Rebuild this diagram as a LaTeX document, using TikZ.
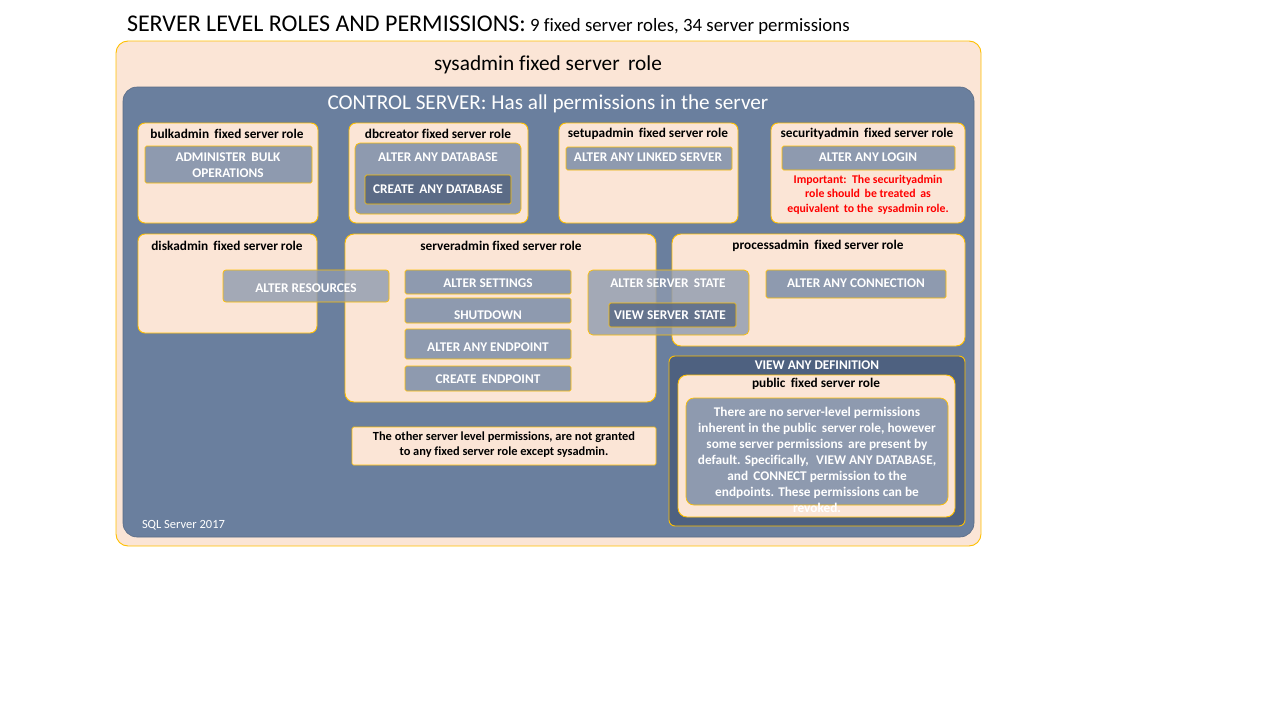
\documentclass[tikz,border=0pt]{standalone}
\usepackage{fontspec}
\setmainfont{Carlito}[Ligatures=NoCommon]
\definecolor{peach}{HTML}{FBE5D6}
\definecolor{gold}{HTML}{FFC000}
\definecolor{ctrlblue}{HTML}{6A7F9E}
\definecolor{permgray}{HTML}{8E9AAF}
\definecolor{permdark}{HTML}{5B6B86}
\definecolor{defblue}{HTML}{4E6180}
\definecolor{warnred}{HTML}{FF0000}
\begin{document}
\begin{tikzpicture}[x=1pt,y=-1pt,
  every node/.style={inner sep=0pt, outer sep=0pt},
  rolebox/.style={draw=gold, line width=0.9pt, fill=peach, rounded corners=7pt},
  permbox/.style={draw=gold, line width=0.7pt, fill=permgray, rounded corners=1.5pt},
  permsoft/.style={draw=gold, line width=0.7pt, fill=permgray, fill opacity=0.8, rounded corners=3pt},
  permdarkbox/.style={draw=gold, line width=0.7pt, fill=permdark, rounded corners=1.5pt},
  roletitle/.style={font=\fontsize{13.3}{15}\selectfont\bfseries, text=black},
  permtext/.style={font=\fontsize{13.3}{16}\selectfont\bfseries, text=white, align=center},
]
\useasboundingbox (0,0) rectangle (1280,720);

% heading
\node[anchor=base west] (head) at (127,31)
  {\fontsize{24}{28}\selectfont SERVER LEVEL ROLES AND PERMISSIONS:\fontsize{18.8}{22}\selectfont{} 9 fixed server roles, 34 server permissions};

% sysadmin and CONTROL SERVER layers
\node[rolebox, rounded corners=12pt, minimum width=865pt, minimum height=505pt] (sysadmin) at (548.5,293.5) {};
\node[font=\fontsize{21.3}{25}\selectfont] (sysadminlbl) at (548,65) {sysadmin fixed server\, role};
\node[draw=ctrlblue!85!black, line width=0.6pt, fill=ctrlblue, rounded corners=14pt, minimum width=851pt, minimum height=450pt] (control) at (548.5,312) {};
\node[font=\fontsize{21.2}{25}\selectfont, text=white] (controllbl) at (548,104) {CONTROL SERVER: Has all permissions in the server};
\node[anchor=base west, font=\fontsize{12.5}{14}\selectfont, text=white] (version) at (142,528) {SQL Server 2017};

% bulkadmin
\node[rolebox, minimum width=180pt, minimum height=100pt] (bulk) at (228,173) {};
\node[roletitle] (bulklbl) at (227,134) {bulkadmin\, fixed server role};
\node[permbox, minimum width=167pt, minimum height=37pt] (admbulk) at (228.5,164.5) {};
\node[permtext] (admbulklbl) at (228,165) {ADMINISTER\, BULK\\OPERATIONS};

% dbcreator
\node[rolebox, minimum width=179pt, minimum height=100pt] (dbc) at (438.5,173) {};
\node[roletitle] (dbclbl) at (438,134) {dbcreator fixed server role};
\node[draw=gold, line width=0.7pt, fill=permgray, rounded corners=5pt, minimum width=166pt, minimum height=71pt] (alterdb) at (438,178.5) {};
\node[permtext] (alterdblbl) at (438,157) {ALTER ANY DATABASE};
\node[permdarkbox, minimum width=146pt, minimum height=29pt] (createdb) at (438,189.5) {};
\node[permtext] (createdblbl) at (438,189.5) {CREATE\, ANY DATABASE};

% setupadmin
\node[rolebox, minimum width=179pt, minimum height=100pt] (setup) at (648.5,173) {};
\node[roletitle] (setuplbl) at (648,134) {setupadmin\, fixed server role};
\node[permbox, minimum width=166pt, minimum height=23pt] (linked) at (649,158.5) {};
\node[permtext] (linkedlbl) at (648,157) {ALTER ANY LINKED SERVER};

% securityadmin
\node[rolebox, minimum width=194pt, minimum height=100pt] (security) at (868,173) {};
\node[roletitle] (securitylbl) at (867,134) {securityadmin\, fixed server role};
\node[permbox, minimum width=173pt, minimum height=24pt] (login) at (868.5,158) {};
\node[permtext] (loginlbl) at (868,157) {ALTER ANY LOGIN};
\node[font=\fontsize{11.8}{14.5}\selectfont\bfseries, text=warnred, align=center] (warn) at (868,194.5)
  {Important:\, The securityadmin\\role should\, be treated\, as\\equivalent\, to the\, sysadmin role.};

% diskadmin
\node[rolebox, minimum width=179pt, minimum height=99pt] (disk) at (227.5,283.5) {};
\node[roletitle] (disklbl) at (227,246) {diskadmin\, fixed server role};

% serveradmin
\node[rolebox, rounded corners=9pt, minimum width=311pt, minimum height=168pt] (srvadm) at (500.5,318) {};
\node[roletitle] (srvadmlbl) at (501,246) {serveradmin fixed server role};
\node[permbox, minimum width=166pt, minimum height=24pt] (settings) at (488,282) {};
\node[permtext] (settingslbl) at (488,283) {ALTER SETTINGS};
\node[permbox, minimum width=166pt, minimum height=25pt] (shutdown) at (488,310.5) {};
\node[permtext] (shutdownlbl) at (488,315) {SHUTDOWN};
\node[permbox, minimum width=166pt, minimum height=30pt] (altend) at (488,344) {};
\node[permtext] (altendlbl) at (488,347) {ALTER ANY ENDPOINT};
\node[permbox, minimum width=166pt, minimum height=25pt] (createend) at (488,378.5) {};
\node[permtext] (createendlbl) at (488,379) {CREATE\, ENDPOINT};

% processadmin
\node[rolebox, rounded corners=9pt, minimum width=293pt, minimum height=112pt] (process) at (818.5,290) {};
\node[roletitle] (processlbl) at (818,246) {processadmin\, fixed server role};
\node[permbox, minimum width=180pt, minimum height=28pt] (connection) at (856,284) {};
\node[permtext] (connectionlbl) at (856,283) {ALTER ANY CONNECTION};

% permissions shared across roles (see-through)
\node[permsoft, minimum width=166pt, minimum height=32pt] (resources) at (306,286) {};
\node[permtext] (resourceslbl) at (306,288) {ALTER RESOURCES};
\node[permsoft, rounded corners=5pt, minimum width=161pt, minimum height=65pt] (srvstate) at (668.5,302.5) {};
\node[permtext] (srvstatelbl) at (668,283) {ALTER SERVER\, STATE};
\node[draw=gold, line width=0.7pt, fill=permdark, fill opacity=0.85, rounded corners=1.5pt, minimum width=127pt, minimum height=24pt] (viewstate) at (672.5,315) {};
\node[permtext] (viewstatelbl) at (670,315) {VIEW SERVER\, STATE};

% VIEW ANY DEFINITION and public
\node[draw=gold, line width=0.9pt, fill=defblue, rounded corners=6pt, minimum width=296pt, minimum height=170pt] (viewdef) at (817,441) {};
\node[permtext] (viewdeflbl) at (817,365) {VIEW ANY DEFINITION};
\node[rolebox, rounded corners=9pt, minimum width=277pt, minimum height=142pt] (public) at (816.5,446) {};
\node[roletitle] (publiclbl) at (816,384) {public\, fixed server role};
\node[draw=gold, line width=0.7pt, fill=permgray, rounded corners=8pt, minimum width=262pt, minimum height=107pt] (pubtext) at (817,451.5) {};
\node[font=\fontsize{13.3}{16}\selectfont\bfseries, text=white, align=center] (pubtextlbl) at (817,460)
  {There are no server-level permissions\\inherent in the public\, server role, however\\some server permissions\, are present by\\default. Specifically,\,\, VIEW ANY DATABASE,\\and\, CONNECT permission to the\\endpoints. These permissions can be\\revoked.};

% remaining permissions note
\node[draw=gold, line width=0.7pt, fill=peach, rounded corners=1.5pt, minimum width=304pt, minimum height=38pt] (note) at (504,446) {};
\node[font=\fontsize{12.4}{15}\selectfont\bfseries, text=black, align=center] (notelbl) at (504,444.5)
  {The other server level permissions, are not granted\\to any fixed server role except sysadmin.};
\end{tikzpicture}
\end{document}
